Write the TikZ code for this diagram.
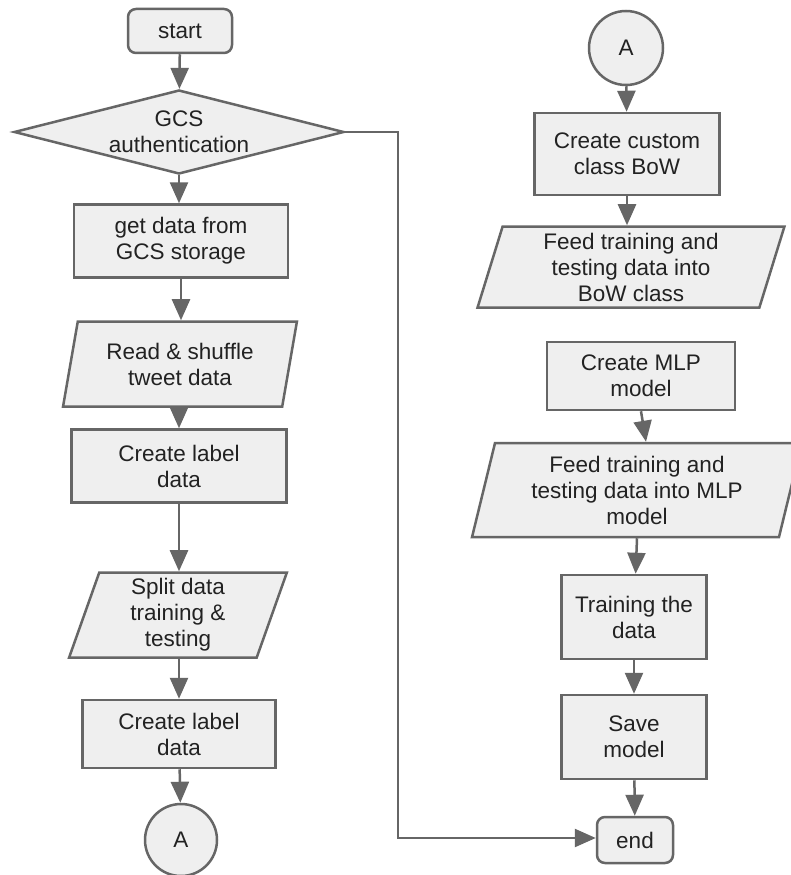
\documentclass[tikz,border=0pt]{standalone}
\usepackage{fontspec}
\setmainfont{Liberation Sans}
\usetikzlibrary{shapes.geometric,arrows.meta}
\definecolor{boxfill}{HTML}{EFEFEF}
\definecolor{boxline}{HTML}{666666}
\definecolor{boxtext}{HTML}{222222}

\begin{document}
\begin{tikzpicture}[x=1pt,y=-1pt,
    every node/.style={font=\fontsize{22.5}{26}\selectfont,text=boxtext,align=center},
    proc/.style={draw=boxline,fill=boxfill,line width=2.5pt,rectangle,inner sep=0pt},
    term/.style={proc,rounded corners=8pt},
    io/.style={proc,trapezium,trapezium left angle=76,trapezium right angle=104,
               trapezium stretches=true},
    dec/.style={proc,diamond,aspect=3.9},
    conn/.style={proc,circle},
    flow/.style={draw=boxline,line width=2.5pt,
                 -{Triangle[width=18pt 0,length=21pt 0]}}]
    \useasboundingbox[fill=white] (0,0) rectangle (790,875);

    % left column
    \node[term,minimum width=104pt,minimum height=44pt] (start) at (180,31) {start};
    \node[dec,minimum width=330pt,minimum height=84pt] (auth) at (179,132)
      {GCS\\authentication};
    \node[proc,minimum width=214pt,minimum height=73pt] (getdata) at (181,241)
      {get data from\\GCS storage};
    \node[io,minimum width=234pt,minimum height=85pt] (readdata) at (180,364)
      {Read \& shuffle\\tweet data};
    \node[proc,minimum width=215pt,minimum height=73pt] (labelone) at (179,466)
      {Create label\\data};
    \node[io,minimum width=218pt,minimum height=85pt] (splitdata) at (178,615)
      {Split data\\training \&\\testing};
    \node[proc,minimum width=193pt,minimum height=68pt] (labeltwo) at (179,734)
      {Create label\\data};
    \node[conn,minimum size=72pt] (conA) at (181,840) {A};

    % right column
    \node[conn,minimum size=74pt] (conB) at (626,48) {A};
    \node[proc,minimum width=185pt,minimum height=82pt] (bowclass) at (627,154)
      {Create custom\\class BoW};
    \node[io,minimum width=307pt,minimum height=81pt] (feedbow) at (631,267)
      {Feed training and\\testing data into\\BoW class};
    \node[proc,minimum width=188pt,minimum height=68pt] (mlp) at (641,376)
      {Create MLP\\model};
    \node[io,minimum width=331pt,minimum height=94pt] (feedmlp) at (637,490)
      {Feed training and\\testing data into MLP\\model};
    \node[proc,minimum width=145pt,minimum height=84pt] (train) at (634,617)
      {Training the\\data};
    \node[proc,minimum width=145pt,minimum height=84pt] (save) at (634,737)
      {Save\\model};
    \node[term,minimum width=76pt,minimum height=46pt] (end) at (635,840) {end};

    % arrows
    \draw[flow] (start) -- (auth);
    \draw[flow] (auth) -- (auth |- getdata.north);
    \draw[flow] (getdata) -- (getdata |- readdata.north);
    \draw[flow] (labelone |- readdata.south) -- (labelone);
    \draw[flow] (labelone) -- (labelone |- splitdata.north);
    \draw[flow] (labeltwo |- splitdata.south) -- (labeltwo);
    \draw[flow] (labeltwo) -- (conA);

    \draw[flow] (conB) -- (bowclass);
    \draw[flow] (bowclass) -- (bowclass |- feedbow.north);
    \draw[flow] (mlp.south) -- ([xshift=5pt]mlp.south |- feedmlp.north);
    \draw[flow] ([xshift=3pt]train.north |- feedmlp.south) -- (train);
    \draw[flow] (train) -- (save);
    \draw[flow] (save) -- (end);

    % authentication fails -> end
    \coordinate (bendtop) at (398,132);
    \coordinate (bendlow) at (398,838);
    \draw[flow] (auth.east) -- (bendtop) -- (bendlow) -- (bendlow -| end.west);
\end{tikzpicture}
\end{document}
